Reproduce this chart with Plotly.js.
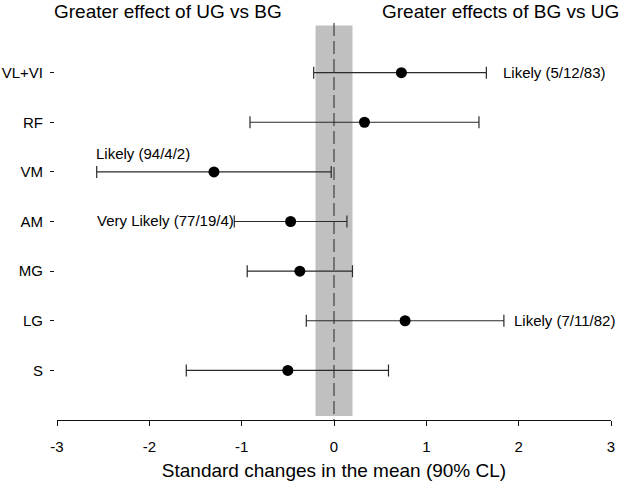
<!DOCTYPE html>
<html>
<head>
<meta charset="utf-8">
<script src="https://cdn.plot.ly/plotly-3.0.1.min.js"></script>
<style>
html,body{margin:0;padding:0;background:#fff;}
#chart{width:620px;height:486px;}
</style>
</head>
<body>
<div id="chart"></div>
<script>
// Data
var muscles = ["VL+VI", "RF", "VM", "AM", "MG", "LG", "S"];
var means   = [0.73, 0.33, -1.30, -0.47, -0.37, 0.77, -0.50];
var lower   = [-0.22, -0.91, -2.57, -1.08, -0.94, -0.30, -1.60];
var upper   = [1.65, 1.57, -0.03, 0.14, 0.20, 1.84, 0.59];
var labels  = ["Likely (5/12/83)", "", "Likely (94/4/2)", "Very Likely (77/19/4)", "", "Likely (7/11/82)", ""];
var xTicks  = [-3, -2, -1, 0, 1, 2, 3];
var trivialBand = [-0.2, 0.2];
var sideTitles = ["Greater effect of UG vs BG", "Greater effects of BG vs UG"];

var FONT = 'Arial, "Liberation Sans", sans-serif';
var n = muscles.length;
var yPos = muscles.map(function(_, i){ return n - i; });

var trace = {
  type: 'scatter',
  mode: 'markers',
  x: means,
  y: yPos,
  marker: {color: '#000', size: 11},
  error_x: {
    type: 'data',
    symmetric: false,
    array: upper.map(function(u, i){ return u - means[i]; }),
    arrayminus: lower.map(function(l, i){ return means[i] - l; }),
    color: '#2a2a2a',
    thickness: 1.2,
    width: 6
  },
  hoverinfo: 'skip',
  showlegend: false,
  cliponaxis: false
};

// label placement styles (per row)
var labelStyle = {
  0: {side: 'right', xshift: 15, yshift: 0},
  2: {side: 'above', xshift: -3, yshift: 8},
  3: {side: 'left', xshift: 2, yshift: 1},
  5: {side: 'right', xshift: 8, yshift: 0}
};

var annotations = [];
labels.forEach(function(t, i){
  if (!t) return;
  var s = labelStyle[i];
  var a = {text: t, showarrow: false, font: {family: FONT, size: 15, color: '#000'},
           xref: 'x', yref: 'y', y: yPos[i], xshift: s.xshift, yshift: s.yshift};
  if (s.side === 'right') { a.x = upper[i]; a.xanchor = 'left'; }
  else if (s.side === 'above') { a.x = lower[i]; a.xanchor = 'left'; a.yanchor = 'bottom'; }
  else { a.x = lower[i]; a.xanchor = 'right'; }
  annotations.push(a);
});
[-1.8, 1.8].forEach(function(xc, k){
  annotations.push({text: sideTitles[k], xref: 'x', yref: 'paper', x: xc, y: 1,
    xanchor: 'center', yanchor: 'middle', yshift: 12, showarrow: false,
    font: {family: FONT, size: 19, color: '#000'}});
});

var layout = {
  width: 620, height: 486,
  margin: {l: 54, r: 9, t: 23, b: 66},
  paper_bgcolor: '#fff', plot_bgcolor: '#fff',
  font: {family: FONT, color: '#000'},
  xaxis: {
    domain: [3/557, 1],
    range: [-3, 3],
    tickvals: xTicks,
    ticktext: xTicks.map(String),
    showgrid: false, zeroline: false,
    showline: true, linecolor: '#111', linewidth: 1,
    ticks: 'outside', ticklen: 5, tickcolor: '#111',
    ticklabelstandoff: 8,
    tickfont: {family: FONT, size: 15},
    title: {text: 'Standard changes in the mean (90% CL)', font: {family: FONT, size: 19}, standoff: 9}
  },
  yaxis: {
    anchor: 'free', position: 0,
    range: [0, 8.0],
    tickvals: yPos,
    ticktext: muscles,
    showgrid: false, zeroline: false, showline: false,
    ticks: 'outside', ticklen: 4, tickcolor: '#111',
    ticklabelstandoff: 4,
    tickfont: {family: FONT, size: 15}
  },
  shapes: [
    {type: 'rect', xref: 'x', yref: 'y', x0: trivialBand[0], x1: trivialBand[1], y0: 0.08, y1: 7.95,
     fillcolor: '#c0c0c0', line: {width: 0}, layer: 'below'},
    {type: 'line', xref: 'x', yref: 'y', x0: 0, x1: 0, y0: 8.0, y1: 0,
     line: {color: '#333', width: 1.1, dash: '13px,5px'}, layer: 'below'}
  ],
  annotations: annotations
};

Plotly.newPlot('chart', [trace], layout, {displayModeBar: false, staticPlot: true});
</script>
</body>
</html>
